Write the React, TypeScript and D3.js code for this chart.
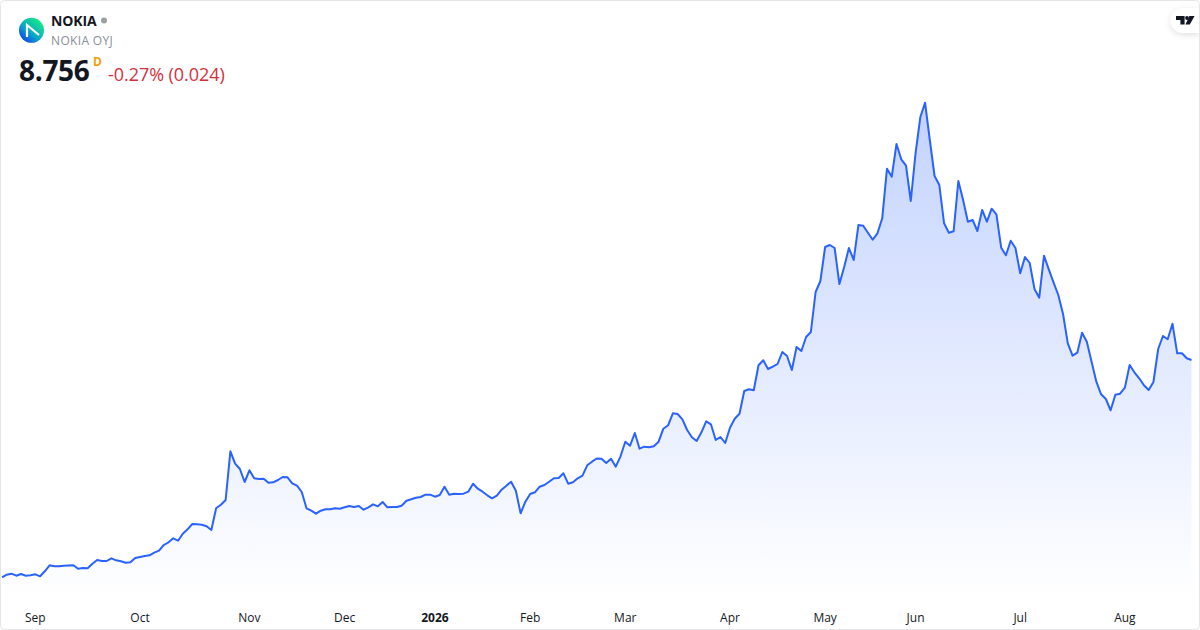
import * as d3 from "d3";

// daily closes
const closes = [
  4.41, 4.462, 4.482, 4.442, 4.476, 4.442, 4.45, 4.47, 4.43, 4.53,
  4.65, 4.63, 4.63, 4.642, 4.646, 4.65, 4.582, 4.596, 4.59, 4.682,
  4.756, 4.736, 4.736, 4.79, 4.75, 4.73, 4.702, 4.71, 4.796, 4.816,
  4.836, 4.85, 4.902, 4.942, 5.056, 5.11, 5.19, 5.142, 5.282, 5.37,
  5.476, 5.47, 5.462, 5.43, 5.356, 5.79, 5.862, 5.956, 6.93, 6.682,
  6.576, 6.316, 6.55, 6.39, 6.376, 6.382, 6.302, 6.31, 6.356, 6.416,
  6.41, 6.29, 6.242, 6.116, 5.79, 5.742, 5.682, 5.742, 5.77, 5.77,
  5.79, 5.782, 5.81, 5.836, 5.816, 5.836, 5.762, 5.81, 5.87, 5.83,
  5.916, 5.81, 5.816, 5.816, 5.842, 5.942, 5.97, 6.002, 6.016, 6.062,
  6.062, 6.022, 6.056, 6.222, 6.062, 6.082, 6.076, 6.082, 6.122, 6.282,
  6.182, 6.122, 6.05, 5.99, 6.042, 6.162, 6.242, 6.322, 6.142, 5.69,
  5.922, 6.076, 6.11, 6.222, 6.256, 6.322, 6.39, 6.396, 6.49, 6.282,
  6.31, 6.39, 6.442, 6.65, 6.722, 6.786, 6.782, 6.696, 6.782, 6.622,
  6.83, 7.122, 7.042, 7.296, 6.982, 7.022, 7.01, 7.03, 7.122, 7.382,
  7.45, 7.69, 7.676, 7.57, 7.356, 7.21, 7.136, 7.31, 7.53, 7.47,
  7.156, 7.216, 7.096, 7.402, 7.582, 7.682, 8.136, 8.17, 8.15, 8.65,
  8.75, 8.576, 8.622, 8.676, 8.916, 8.836, 8.556, 9.016, 8.936, 9.216,
  9.316, 10.116, 10.336, 11.016, 11.056, 10.996, 10.276, 10.616, 10.996, 10.756,
  11.456, 11.442, 11.302, 11.162, 11.29, 11.59, 12.582, 12.422, 13.076, 12.77,
  12.642, 11.936, 12.89, 13.61, 13.902, 13.156, 12.436, 12.256, 11.49, 11.302,
  11.33, 12.336, 11.956, 11.522, 11.556, 11.336, 11.756, 11.522, 11.782, 11.67,
  11.002, 10.85, 11.142, 10.996, 10.49, 10.816, 10.696, 10.176, 10.002, 10.842,
  10.57, 10.31, 10.056, 9.676, 9.09, 8.842, 8.902, 9.302, 9.122, 8.722,
  8.322, 8.07, 7.976, 7.75, 8.062, 8.082, 8.202, 8.656, 8.51, 8.39,
  8.25, 8.156, 8.316, 8.976, 9.236, 9.17, 9.482, 8.89, 8.89, 8.79,
  8.756,
];

const tickLabels = ["Sep", "Oct", "Nov", "Dec", "2026", "Feb", "Mar", "Apr", "May", "Jun", "Jul", "Aug"];
const tickBars = [7, 29, 52, 72, 91, 111, 131, 153, 173, 192, 214, 236];

const WIDTH = 1200;
const HEIGHT = 630;
const FONT = "'Open Sans', 'Noto Sans', sans-serif";

const x = d3.scaleLinear().domain([0, closes.length - 1]).range([2, 1191.5]);
const y = d3.scaleLinear().domain([4, 15.9]).range([597.8, 2.8]);

const lineGen = d3
  .line<number>()
  .x((_, i) => x(i))
  .y((d) => y(d));

const areaGen = d3
  .area<number>()
  .x((_, i) => x(i))
  .y0(HEIGHT - 32)
  .y1((d) => y(d));

export default function App() {
  return (
    <svg
      width={WIDTH}
      height={HEIGHT}
      style={{ position: "absolute", left: 0, top: 0, display: "block" }}
      fontFamily={FONT}
    >
      <defs>
        <linearGradient id="fillGrad" gradientUnits="userSpaceOnUse" x1={0} x2={0} y1={y(d3.max(closes) as number)} y2={HEIGHT - 32}>
          <stop offset="0%" stopColor="#2962ff" stopOpacity={0.28} />
          <stop offset="100%" stopColor="#2962ff" stopOpacity={0} />
        </linearGradient>
        <linearGradient id="logoGrad" x1="0.1" y1="0.9" x2="0.8" y2="0.1">
          <stop offset="0%" stopColor="#1240f0" />
          <stop offset="45%" stopColor="#08a8c8" />
          <stop offset="100%" stopColor="#18e884" />
        </linearGradient>
        <filter id="pillShadow" x="-40%" y="-40%" width="180%" height="200%">
          <feDropShadow dx={0} dy={2} stdDeviation={3} floodColor="#000" floodOpacity={0.12} />
        </filter>
      </defs>

      <rect x={0} y={0} width={WIDTH} height={HEIGHT} fill="#fff" />

      <path d={areaGen(closes) as string} fill="url(#fillGrad)" />
      <path d={lineGen(closes) as string} fill="none" stroke="#2962ff" strokeWidth={2} strokeLinejoin="round" />

      {tickLabels.map((label, i) => (
        <text
          key={label}
          x={x(tickBars[i])}
          y={622}
          textAnchor="middle"
          fontSize={12}
          fontWeight={label === "2026" ? 700 : 400}
          fill="#131722"
        >
          {label}
        </text>
      ))}

      {/* header */}
      <circle cx={31.5} cy={30.3} r={12.5} fill="url(#logoGrad)" />
      <path d="M27 37 L27 25 L39 35" fill="none" stroke="#fff" strokeWidth={2.2} strokeLinejoin="miter" />
      <text x={51} y={26} fontSize={14} fontWeight={700} fill="#131722" letterSpacing={-0.1}>NOKIA</text>
      <circle cx={104} cy={20.5} r={3} fill="#9b9ea3" />
      <text x={51} y={45} fontSize={12} fill="#8a8e97" letterSpacing={0.35}>NOKIA OYJ</text>
      <text x={19} y={81} fontSize={28} fontWeight={700} fill="#131722" letterSpacing={-0.3}>8.756</text>
      <text x={93} y={66} fontSize={12} fontWeight={700} fill="#f59e0b">D</text>
      <text x={108} y={81} fontSize={18} fill="#d32f3c" letterSpacing={-0.05}>-0.27% (0.024)</text>

      {/* logo pill */}
      <path
        d="M1200 8 L1183 8 A12.5 12.5 0 0 0 1183 33 L1200 33 Z"
        fill="#fff"
        filter="url(#pillShadow)"
      />
      <path
        d="M1176 16 L1184.6 16 L1184.6 24.4 L1180.4 24.4 L1180.4 20 L1176 20 Z M1189.4 16 L1194.6 16 L1189.8 24.4 L1185.4 24.4 Z"
        fill="#131722"
      />
      <circle cx={1187} cy={18} r={1.9} fill="#131722" />

      {/* card border */}
      <rect x={0.5} y={0.5} width={WIDTH - 1} height={HEIGHT - 1} rx={4} fill="none" stroke="#e6e6e8" />
    </svg>
  );
}
